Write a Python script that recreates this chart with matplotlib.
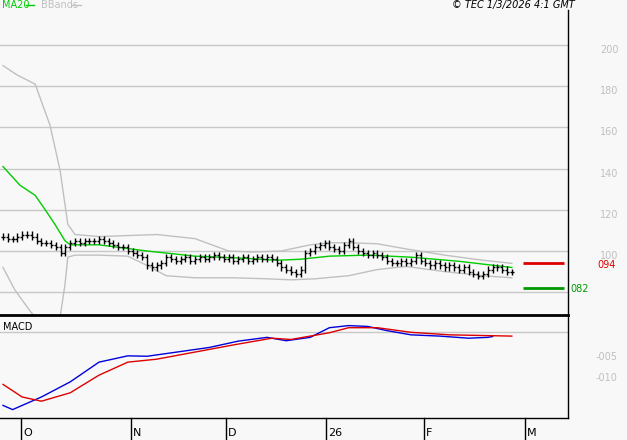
import matplotlib.pyplot as plt
import numpy as np

# closes, one per trading day
close = [1.07,1.06,1.06,1.07,1.08,1.08,1.07,1.05,1.04,1.04,1.03,1.02,
         0.99,1.02,1.04,
         1.05,1.04,1.05,1.05,1.05,1.06,1.05,1.04,1.03,1.02,1.02,1.00,
         0.99,0.98,0.97,
         0.93,0.92,0.93,0.94,
         0.97,0.96,0.95,0.96,0.97,0.95,0.96,0.97,0.96,0.97,0.98,0.97,0.96,0.97,0.95,0.96,0.97,
         0.95,0.96,0.97,0.96,0.97,0.96,
         0.94,0.92,0.91,0.90,0.89,0.91,
         0.99,1.00,1.02,1.03,
         1.04,1.02,1.01,1.00,1.03,1.05,1.02,1.00,
         0.99,0.98,0.99,0.98,0.97,
         0.95,0.94,0.94,0.95,0.94,0.95,0.98,
         0.95,0.94,0.93,0.94,0.93,0.92,0.93,0.92,0.91,0.92,
         0.90,0.89,0.88,0.89,
         0.91,0.92,0.92,0.91,0.90,0.90]

ma_i = [0, 3.5, 6.7, 8.8, 10.8, 12.9, 14, 20, 30, 40, 50, 57, 62, 68, 76, 85, 95, 106]
ma_v = [1.41, 1.32, 1.27, 1.20, 1.13, 1.05, 1.03, 1.03, 1.00, 0.975, 0.965, 0.955, 0.96, 0.975, 0.98, 0.97, 0.95, 0.92]

up_i = [0, 2.9, 6.7, 9.8, 11.9, 13.5, 15, 20, 26, 32, 40, 47, 52, 58, 64, 68, 72, 78, 84, 92, 100, 106]
up_v = [1.90, 1.855, 1.81, 1.61, 1.39, 1.13, 1.08, 1.07, 1.075, 1.08, 1.06, 1.00, 0.995, 1.00, 1.03, 1.04, 1.04, 1.035, 1.01, 0.98, 0.955, 0.94]

lo_i = [0, 2.5, 5.6, 8.8, 11.9, 12.9, 13.5, 15, 20, 26, 30, 34, 40, 48, 55, 60, 65, 72, 78, 84, 92, 100, 106]
lo_v = [0.92, 0.81, 0.71, 0.62, 0.68, 0.835, 0.97, 0.98, 0.98, 0.975, 0.93, 0.88, 0.87, 0.87, 0.865, 0.86, 0.865, 0.88, 0.91, 0.925, 0.90, 0.88, 0.87]

macd_i = [0, 2, 8, 14, 20, 26, 30, 35, 43, 49, 55, 59, 64, 68, 72, 76, 80, 85, 91, 97, 101, 102]
macd_v = [-0.170, -0.180, -0.150, -0.114, -0.067, -0.052, -0.053, -0.045, -0.032, -0.017, -0.008, -0.016, -0.008, 0.015, 0.020, 0.018, 0.008, -0.002, -0.005, -0.010, -0.008, -0.006]

sig_i = [0, 4, 8, 14, 20, 26, 32, 40, 48, 56, 60, 64, 68, 72, 78, 85, 93, 106]
sig_v = [-0.120, -0.150, -0.160, -0.140, -0.098, -0.067, -0.060, -0.043, -0.026, -0.010, -0.013, -0.005, 0.003, 0.015, 0.015, 0.004, -0.002, -0.005]

month_pos = [3.75, 26.7, 46.5, 67.3, 87.7, 108.75]
month_lab = ["O", "N", "D", "26", "F", "M"]
price_ticks = [2.0, 1.8, 1.6, 1.4, 1.2, 1.0]
price_labs = ["200", "180", "160", "140", "120", "100"]

W, H = 627, 440
bg = "#f8f8f8"
fig = plt.figure(figsize=(W / 100, H / 100), dpi=100, facecolor=bg)

def box(x0, y0, x1, y1):
    return [x0 / W, 1 - y1 / H, (x1 - x0) / W, (y1 - y0) / H]

xl = (-0.625, 117.7)

ax = fig.add_axes(box(0, 0, 568, 315), facecolor=bg)
ax.set_xlim(*xl)
ax.set_ylim(1 - 64 / 206, 1 + 251 / 206)
for g in [0.8, 1.0, 1.2, 1.4, 1.6, 1.8, 2.0]:
    ax.axhline(g, color="#c8c8c8", lw=1)
ax.plot(up_i, up_v, color="#c0c0c0", lw=1)
ax.plot(lo_i, lo_v, color="#c0c0c0", lw=1)
ax.plot(ma_i, ma_v, color="#00cc00", lw=1)

c = np.array(close)
o = np.roll(c, 1)
o[0] = c[0]
hi = np.maximum(o, c) + 0.015
lo = np.minimum(o, c) - 0.015
idx = np.arange(len(c))
ax.vlines(idx, lo, hi, color="black", lw=1)
ax.hlines(o, idx - 0.4, idx, color="black", lw=1)
ax.hlines(c, idx, idx + 0.4, color="black", lw=1)

ax.hlines(0.94, 108.4, 116.9, color="#dd0000", lw=2)
ax.hlines(0.82, 108.4, 116.9, color="#009900", lw=2)
ax.set_xticks([])
ax.set_yticks([])
for s in ax.spines.values():
    s.set_visible(False)

ax2 = fig.add_axes(box(0, 315, 568, 418), facecolor=bg)
ax2.set_xlim(*xl)
ax2.set_ylim(-(418 - 334) / 420, (334 - 315) / 420)
ax2.axhline(0.005, color="#c8c8c8", lw=1)
ax2.plot(macd_i, macd_v, color="#0000dd", lw=1)
ax2.plot(sig_i, sig_v, color="#dd0000", lw=1)
ax2.set_xticks([])
ax2.set_yticks([])
for s in ax2.spines.values():
    s.set_visible(False)
ax2.text(0.005, 0.93, "MACD", transform=ax2.transAxes, fontsize=7, va="top")

# frame lines
fig.add_artist(plt.Line2D([0, 568 / W], [1 - 315 / H] * 2, color="black", lw=2))
fig.add_artist(plt.Line2D([0, 568 / W], [1 - 418 / H] * 2, color="black", lw=1))
fig.add_artist(plt.Line2D([568 / W] * 2, [1 - 10 / H, 1 - 418 / H], color="black", lw=1))

# price labels
for v, s in zip(price_ticks, price_labs):
    y = 251 + (1.0 - v) * 206 + 5
    fig.text(600 / W, 1 - y / H, s, color="#c0c0c0", fontsize=7, ha="left", va="center")
fig.text(597 / W, 1 - 265 / H, "094", color="#dd0000", fontsize=7, va="center")
fig.text(570 / W, 1 - 289 / H, "082", color="#009900", fontsize=7, va="center")
fig.text(596 / W, 1 - 357 / H, "-005", color="#c0c0c0", fontsize=7, va="center")
fig.text(596 / W, 1 - 378 / H, "-010", color="#c0c0c0", fontsize=7, va="center")

# month ticks
for p, s in zip(month_pos, month_lab):
    xp = (p - xl[0]) / (xl[1] - xl[0]) * 568
    fig.add_artist(plt.Line2D([xp / W] * 2, [1 - 418 / H, 0], color="black", lw=1))
    fig.text((xp + 2) / W, 1 - 433 / H, s, fontsize=8, va="center")

fig.text(2 / W, 1 - 5 / H, "MA20", color="#00cc00", fontsize=7, va="center")
fig.add_artist(plt.Line2D([26 / W, 34 / W], [1 - 5 / H] * 2, color="#00cc00", lw=1))
fig.text(41 / W, 1 - 5 / H, "BBands", color="#c0c0c0", fontsize=7, va="center")
fig.add_artist(plt.Line2D([72 / W, 81 / W], [1 - 5 / H] * 2, color="#c0c0c0", lw=1))
fig.text(575 / W, 1 - 5 / H, "© TEC 1/3/2026 4:1 GMT", fontsize=7, style="italic", ha="right", va="center")

fig.savefig("out.png", dpi=100, facecolor=bg)
